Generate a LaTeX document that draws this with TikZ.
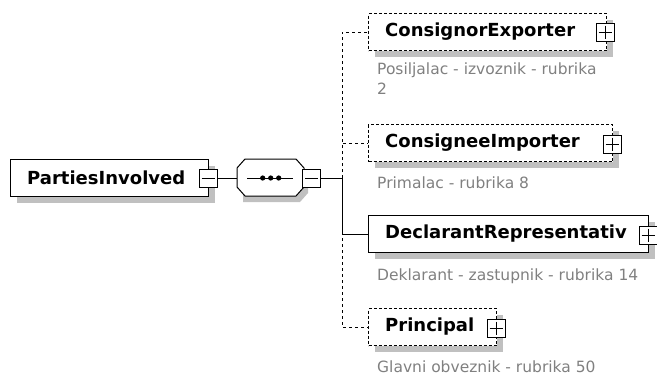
\documentclass[tikz,border=0pt]{standalone}
\usepackage{fontspec}
\setmainfont{DejaVu Sans}
\usetikzlibrary{shadows}
\definecolor{shadowc}{RGB}{192,192,192}
\definecolor{descc}{RGB}{128,128,128}
\begin{document}
\begin{tikzpicture}[x=1pt,y=-1pt,
  shd/.style={general shadow={fill=shadowc,draw=none,shadow xshift=6pt,shadow yshift=-6pt}},
  elem/.style={draw=black,line width=1pt,fill=white,inner sep=0pt,minimum height=37pt,anchor=west,shd},
  opt/.style={elem,dash pattern=on 3pt off 2pt},
  pm/.style={draw=black,line width=1pt,fill=white,inner sep=0pt,minimum width=18pt,minimum height=18pt},
  lbl/.style={font=\fontsize{18}{20}\selectfont\bfseries,inner sep=0pt,anchor=west},
  desc/.style={font=\fontsize{15.5}{20}\selectfont,text=descc,inner sep=0pt,anchor=west,align=left},
  conn/.style={draw=black,line width=1pt},
  dconn/.style={conn,dash pattern=on 3pt off 3pt}
]
\useasboundingbox (0,0) rectangle (657,375);
% root element
\node[elem,minimum width=198pt] (pi) at (10,178) {};
\node[lbl] (piT) at (27,178) {PartiesInvolved};
\node[pm] (pim) at (208,178) {};
\draw[conn] ([xshift=3pt]pim.west) -- ([xshift=-3pt]pim.east);
% sequence compositor
\fill[shadowc] (243,165) -- (300,165) -- (308,174) -- (308,193) -- (300,202) -- (243,202) -- (243,193) -- cycle;
\draw[conn,fill=white] (237,168) -- (245,159) -- (296,159) -- (304,168) -- (304,187) -- (296,196) -- (245,196) -- (237,187) -- cycle;
\node[inner sep=0pt,minimum width=67pt,minimum height=37pt,anchor=west] (seq) at (237,178) {};
\draw[conn] ([xshift=10pt]seq.west) -- ([xshift=-11pt]seq.east);
\foreach \dx in {-8,0,8}{\fill ([xshift=\dx pt]seq.center) circle (2.6pt);}
\node[pm] (seqm) at (311.5,178) {};
\draw[conn] ([xshift=3pt]seqm.west) -- ([xshift=-3pt]seqm.east);
\coordinate (j) at (342,178);
% children
\node[opt,minimum width=238pt] (ce) at (368,32) {};
\node[lbl] (ceT) at (385,32) {ConsignorExporter};
\node[pm] (cep) at (605,32) {};
\node[desc,anchor=north west] (ceD) at (377,63) {Posiljalac - izvoznik - rubrika\\2};

\node[opt,minimum width=244pt] (ci) at (368,143) {};
\node[lbl] (ciT) at (385,143) {ConsigneeImporter};
\node[pm] (cip) at (612,144) {};
\node[desc] (ciD) at (377,183) {Primalac - rubrika 8};

\node[elem,minimum width=280pt] (dr) at (368,234) {};
\node[lbl] (drT) at (385,234) {DeclarantRepresentativ};
\node[pm] (drp) at (648,235) {};
\node[desc] (drD) at (377,276) {Deklarant - zastupnik - rubrika 14};

\node[opt,minimum width=128pt] (pr) at (368,327) {};
\node[lbl] (prT) at (385,327) {Principal};
\node[pm] (prp) at (496,328) {};
\node[desc] (prD) at (377,367) {Glavni obveznik - rubrika 50};

\foreach \p in {cep,cip,drp,prp}{
  \draw[conn] ([xshift=3pt]\p.west) -- ([xshift=-3pt]\p.east);
  \draw[conn] ([yshift=-3pt]\p.north) -- ([yshift=3pt]\p.south);
}
% connectors
\draw[conn] (pim.east) -- (seq.west);
\draw[conn] (seqm.east) -- (j);
\draw[dconn] (j) |- (ce.west);
\draw[dconn] (j) |- (ci.west);
\draw[dconn] (j) |- (pr.west);
\draw[conn] (j) |- (dr.west);
\end{tikzpicture}
\end{document}
